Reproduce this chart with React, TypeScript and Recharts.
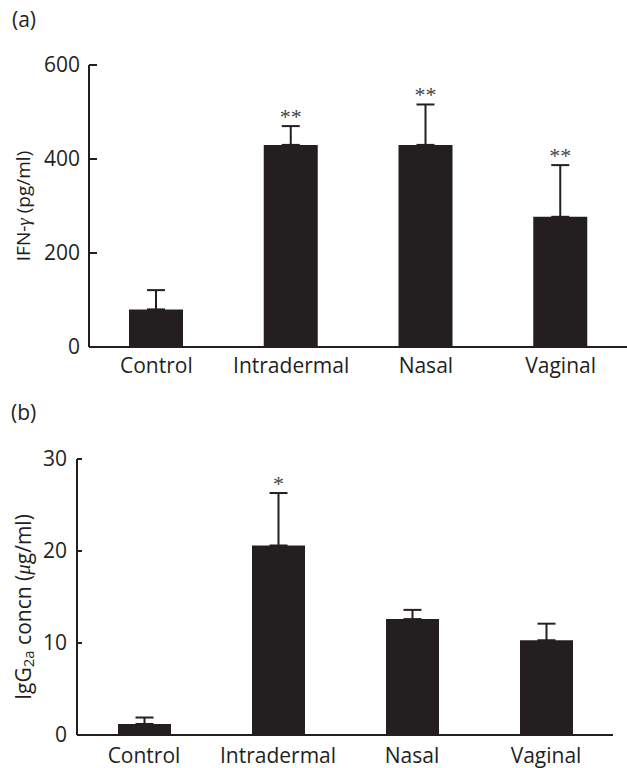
import React from "react";
import { BarChart, Bar, XAxis, YAxis, ErrorBar, LabelList } from "recharts";

const categories = ["Control", "Intradermal", "Nasal", "Vaginal"];

// panel (a) IFN-gamma, pg/ml
const ifnMean = [80, 430, 430, 277];
const ifnErr = [41, 40, 86, 110];
const ifnSig = ["", "**", "**", "**"];
const ifnTicks = [0, 200, 400, 600];

// panel (b) IgG2a, ug/ml
const iggMean = [1.2, 20.6, 12.6, 10.3];
const iggErr = [0.7, 5.7, 1.0, 1.8];
const iggSig = ["", "*", "", ""];
const iggTicks = [0, 10, 20, 30];

const INK = "#231f20";
const FONT = "'Open Sans', sans-serif";

const dataA = categories.map((name, i) => ({
  name,
  mean: ifnMean[i],
  err: [0, ifnErr[i]],
  cap: ifnErr[i],
  sig: ifnSig[i],
}));

const dataB = categories.map((name, i) => ({
  name,
  mean: iggMean[i],
  err: [0, iggErr[i]],
  cap: iggErr[i],
  sig: iggSig[i],
}));

const starLabel = (props: any) => {
  const { x, y, width, value } = props;
  if (!value) return null;
  return (
    <text
      x={Number(x) + Number(width) / 2}
      y={Number(y) - 2}
      textAnchor="middle"
      fontFamily="'Liberation Serif', serif"
      fontSize={22}
      fill="#444"
    >
      {value}
    </text>
  );
};

const tickStyle = { fill: INK, fontSize: 21, fontFamily: FONT };

const App = () => {
  return (
    <div style={{ position: "absolute", left: 0, top: 0, width: 627, height: 768, background: "#fff", overflow: "hidden" }}>
      {/* (a) */}
      <div style={{ position: "absolute", left: 0, top: 0 }}>
        <svg width={60} height={40} style={{ position: "absolute", left: 0, top: 0 }}>
          <text x={12} y={27} fontFamily={FONT} fontSize={21} fill={INK}>(a)</text>
        </svg>
        <BarChart
          width={628}
          height={385}
          data={dataA}
          margin={{ top: 65, right: 0, left: 0, bottom: 0 }}
          barSize={54}
        >
          <XAxis
            dataKey="name"
            height={38}
            tickLine={false}
            tickSize={0}
            tickMargin={11}
            axisLine={{ stroke: INK, strokeWidth: 2 }}
            tick={tickStyle}
          />
          <YAxis
            width={89}
            domain={[0, 600]}
            ticks={ifnTicks}
            tickSize={-8}
            tickMargin={17}
            axisLine={{ stroke: INK, strokeWidth: 2 }}
            tickLine={{ stroke: INK, strokeWidth: 2 }}
            tick={tickStyle}
            label={{
              content: () => (
                <text
                  transform="translate(23,206) rotate(-90)"
                  textAnchor="middle"
                  dominantBaseline="central"
                  fontFamily={FONT}
                  fontSize={19}
                  fill={INK}
                >
                  IFN-<tspan fontStyle="italic" fontFamily="'Liberation Serif', serif">γ</tspan> (pg/ml)
                </text>
              ),
            }}
          />
          <Bar dataKey="mean" stackId="s" fill={INK} isAnimationActive={false}>
            <ErrorBar dataKey="err" width={9} stroke={INK} strokeWidth={2} direction="y" />
          </Bar>
          <Bar dataKey="cap" stackId="s" fill="transparent" isAnimationActive={false}>
            <LabelList dataKey="sig" content={starLabel} />
          </Bar>
        </BarChart>
      </div>

      {/* (b) */}
      <div style={{ position: "absolute", left: 0, top: 385 }}>
        <svg width={60} height={40} style={{ position: "absolute", left: 0, top: 0 }}>
          <text x={11} y={35} fontFamily={FONT} fontSize={21} fill={INK}>(b)</text>
        </svg>
        <BarChart
          width={613}
          height={383}
          data={dataB}
          margin={{ top: 74, right: 0, left: 0, bottom: 0 }}
          barSize={53}
        >
          <XAxis
            dataKey="name"
            height={33}
            tickLine={false}
            tickSize={0}
            tickMargin={13}
            axisLine={{ stroke: INK, strokeWidth: 2 }}
            tick={tickStyle}
          />
          <YAxis
            width={77}
            domain={[0, 30]}
            ticks={iggTicks}
            tickSize={-5}
            tickMargin={15}
            axisLine={{ stroke: INK, strokeWidth: 2 }}
            tickLine={{ stroke: INK, strokeWidth: 2 }}
            tick={tickStyle}
            label={{
              content: () => (
                <text
                  transform="translate(23,222) rotate(-90)"
                  textAnchor="middle"
                  dominantBaseline="central"
                  fontFamily={FONT}
                  fontSize={21}
                  fill={INK}
                >
                  IgG
                  <tspan fontSize={15} dy={5}>2a</tspan>
                  <tspan dy={-5}> concn (</tspan>
                  <tspan fontStyle="italic" fontFamily="'Liberation Serif', serif">μ</tspan>
                  <tspan>g/ml)</tspan>
                </text>
              ),
            }}
          />
          <Bar dataKey="mean" stackId="s" fill={INK} isAnimationActive={false}>
            <ErrorBar dataKey="err" width={9} stroke={INK} strokeWidth={2} direction="y" />
          </Bar>
          <Bar dataKey="cap" stackId="s" fill="transparent" isAnimationActive={false}>
            <LabelList dataKey="sig" content={starLabel} />
          </Bar>
        </BarChart>
      </div>
    </div>
  );
};

export default App;
